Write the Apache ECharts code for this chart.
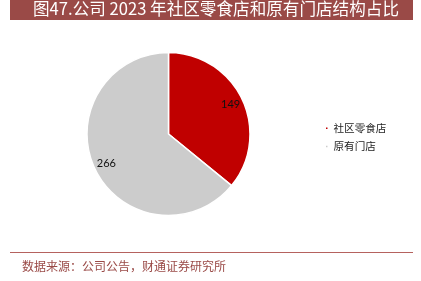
<!DOCTYPE html>
<html><head><meta charset="utf-8">
<script src="https://cdn.jsdelivr.net/npm/echarts@6/dist/echarts.min.js"></script>
<style>html,body{margin:0;padding:0;background:#fff}#c{width:421px;height:281px}</style>
</head><body><div id="c"></div>
<script>
const titleText = '图47.公司 2023 年社区零食店和原有门店结构占比';
const sourceText = '数据来源：公司公告，财通证券研究所';
const categories = ['社区零食店', '原有门店'];
const values = [149, 266];
const colors = ['#C00000', '#CCCCCC'];

const data = categories.map((n, i) => ({ name: n, value: values[i], itemStyle: { color: colors[i] } }));
const font = '"Noto Sans CJK SC", sans-serif';
const chart = echarts.init(document.getElementById('c'), null, { renderer: 'canvas' });
chart.setOption({
  animation: false,
  graphic: [
    { type: 'rect', shape: { x: 10, y: 0, width: 403, height: 20 }, style: { fill: '#9A4A47' } },
    { type: 'text', left: 33, top: 0.5, style: { text: titleText, fill: '#fff', font: '16.6px ' + font } },
    { type: 'rect', shape: { x: 10, y: 252, width: 403, height: 1 }, style: { fill: '#B5625E' } },
    { type: 'text', left: 22, top: 260, style: { text: sourceText, fill: '#9A4A47', font: '12px ' + font } }
  ],
  legend: {
    orient: 'vertical', left: 319, top: 118,
    itemWidth: 3.5, itemHeight: 3.5, itemGap: 7.5, icon: 'rect',
    textStyle: { fontSize: 10.6, color: '#222', fontFamily: font },
    data: categories
  },
  series: [
    {
      type: 'pie', center: [168.5, 134], radius: [0, 81.5], startAngle: 90, clockwise: true,
      itemStyle: { borderColor: '#fff', borderWidth: 1.5 },
      label: { show: false }, labelLine: { show: false },
      data: data
    },
    {
      type: 'pie', center: [168.5, 134], radius: [50, 81.5], startAngle: 90, clockwise: true, silent: true,
      itemStyle: { color: 'transparent', borderWidth: 0 },
      label: { show: true, position: 'inside', formatter: '{c}', color: '#111', fontSize: 11, fontFamily: 'Lato, sans-serif' },
      labelLine: { show: false },
      data: values.map((v, i) => ({ name: categories[i] + '_l', value: v }))
    }
  ]
});
</script></body></html>
